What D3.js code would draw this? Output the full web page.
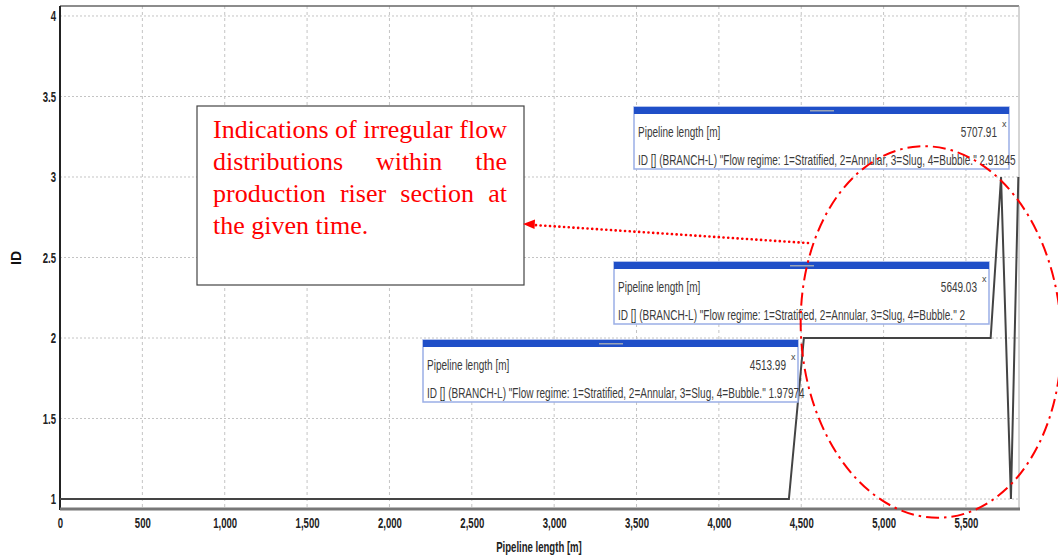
<!DOCTYPE html>
<html><head><meta charset="utf-8">
<script src="https://cdn.jsdelivr.net/npm/d3@7/dist/d3.min.js"></script>
<style>body{margin:0;background:#fff}svg{display:block}</style>
</head><body>
<svg id="c" width="1058" height="559"></svg>
<script>
// ---- data ----
const pipelineLength = [0, 4425, 4516, 5650, 5713, 5773, 5818];
const flowRegimeId   = [1, 1, 2, 2, 3, 1, 3];
const xTicks = [0,500,1000,1500,2000,2500,3000,3500,4000,4500,5000,5500];
const yTicks = [1,1.5,2,2.5,3,3.5,4];
const probeLengthLabels = ["5707.91", "5649.03", "4513.99"];
const probeValueLabels = ["2.91845", "2", "1.97974"];
const seriesName = 'ID [] (BRANCH-L) "Flow regime: 1=Stratified, 2=Annular, 3=Slug, 4=Bubble."';
const noteLines = ["Indications of irregular flow", "distributions within the", "production riser section at", "the given time."];

const svg = d3.select("#c");
const L = 60, R = 1019, T = 6, B = 509;
const x = d3.scaleLinear().domain([0, 5822]).range([L, R]);
const y = d3.scaleLinear().domain([0.938, 4.062]).range([B, T]);

// horizontally condense a text element by factor s
function condense(sel, s) {
  sel.each(function () {
    const w = this.getComputedTextLength();
    d3.select(this).attr("textLength", w * s).attr("lengthAdjust", "spacingAndGlyphs");
  });
}

const sansFont = "'Liberation Sans',Arial,sans-serif";

// grid
svg.append("g").selectAll("line").data(yTicks).join("line")
  .attr("x1", L).attr("x2", R).attr("y1", d => y(d)).attr("y2", d => y(d))
  .attr("stroke", "#c4c4c4").attr("stroke-dasharray", "2,2");
svg.append("g").selectAll("line").data(xTicks).join("line")
  .attr("x1", d => x(d)).attr("x2", d => x(d)).attr("y1", T).attr("y2", B)
  .attr("stroke", "#c4c4c4").attr("stroke-dasharray", "3,3");

// axes via d3
const xAxis = d3.axisBottom(x).tickValues(xTicks).tickSize(0).tickPadding(9)
  .tickFormat(d3.format(","));
const gx = svg.append("g").attr("transform", `translate(0,${B})`).call(xAxis);
gx.select(".domain").remove();
gx.selectAll("text").attr("font-family", sansFont)
  .attr("font-weight", "bold").attr("font-size", 14.5).attr("fill", "#222");
condense(gx.selectAll("text"), 0.66);

const yAxis = d3.axisLeft(y).tickValues(yTicks).tickSize(0).tickPadding(4)
  .tickFormat(d => d3.format("")(d));
const gy = svg.append("g").attr("transform", `translate(${L},0)`).call(yAxis);
gy.select(".domain").remove();
gy.selectAll("text").attr("font-family", sansFont)
  .attr("font-weight", "bold").attr("font-size", 14.5).attr("fill", "#222");
condense(gy.selectAll("text"), 0.66);

// frame
svg.append("line").attr("x1", L).attr("x2", R).attr("y1", T).attr("y2", T).attr("stroke", "#666").attr("stroke-width", 1.5);
svg.append("line").attr("x1", R).attr("x2", R).attr("y1", T).attr("y2", B).attr("stroke", "#aaa").attr("stroke-width", 1);
svg.append("line").attr("x1", L).attr("x2", L).attr("y1", T).attr("y2", B + 1).attr("stroke", "#222").attr("stroke-width", 2);
svg.append("line").attr("x1", L).attr("x2", R + 1).attr("y1", B).attr("y2", B).attr("stroke", "#777").attr("stroke-width", 3);

// titles
const xt = svg.append("text").attr("x", 539).attr("y", 552).attr("text-anchor", "middle")
  .attr("font-family", sansFont)
  .attr("font-weight", "bold").attr("font-size", 14.5).attr("fill", "#222").text("Pipeline length [m]");
condense(xt, 0.66);
svg.append("text").attr("transform", "translate(21,258) rotate(-90)").attr("text-anchor", "middle")
  .attr("font-family", sansFont)
  .attr("font-weight", "bold").attr("font-size", 14).attr("fill", "#111").text("ID");

// data line
const pts = pipelineLength.map((d, i) => [d, flowRegimeId[i]]);
svg.append("path").datum(pts)
  .attr("d", d3.line().x(d => x(d[0])).y(d => y(d[1])))
  .attr("fill", "none").attr("stroke", "#444").attr("stroke-width", 2);

// tooltips
const tipPos = [[634, 107], [614, 262], [423, 340]];
const tipS = 0.715;
tipPos.forEach((p, i) => {
  const g = svg.append("g").attr("transform", `translate(${p[0]},${p[1]})`);
  g.append("rect").attr("width", 375).attr("height", 62).attr("fill", "#fff")
    .attr("stroke", "#9aaee6").attr("stroke-width", 1.5);
  g.append("rect").attr("width", 375).attr("height", 7).attr("fill", "#1f4fc8");
  g.append("rect").attr("x", 176).attr("y", 3).attr("width", 24).attr("height", 1.5).attr("fill", "#9aa3b5");
  const a = g.append("text").attr("x", 4).attr("y", 30).attr("font-family", sansFont).attr("font-size", 14)
    .attr("fill", "#3a3a3a").text("Pipeline length [m]");
  const b = g.append("text").attr("x", 363).attr("y", 30).attr("text-anchor", "end").attr("font-family", sansFont)
    .attr("font-size", 14).attr("fill", "#3a3a3a").text(probeLengthLabels[i]);
  g.append("text").attr("x", 368).attr("y", 20).attr("font-family", sansFont).attr("font-size", 9)
    .attr("fill", "#444").text("x");
  const c = g.append("text").attr("x", 4).attr("y", 58).attr("font-family", sansFont).attr("font-size", 14)
    .attr("fill", "#3a3a3a").text(seriesName + " " + probeValueLabels[i]);
  condense(a, tipS); condense(b, tipS); condense(c, tipS);
});

// annotation box
svg.append("rect").attr("x", 197).attr("y", 106).attr("width", 327).attr("height", 179)
  .attr("fill", "#fff").attr("stroke", "#444").attr("stroke-width", 1.2);
const noteFont = "'Liberation Serif','Times New Roman',serif";
const nl = svg.append("g");
const left = 213, right = 507;
const probe = nl.append("text").attr("font-family", noteFont).attr("font-size", 20).text(noteLines[0]);
const fs = 20 * (right - left) / probe.node().getComputedTextLength();
probe.remove();
noteLines.forEach((ln, i) => {
  const by = 138 + i * 32;
  const words = ln.split(" ");
  const ws = words.map(w => nl.append("text").attr("y", by).attr("font-family", noteFont)
    .attr("font-size", fs).attr("fill", "#f00").text(w));
  const widths = ws.map(t => t.node().getComputedTextLength());
  const last = i === noteLines.length - 1;
  const gap = last ? fs * 0.25 : (right - left - d3.sum(widths)) / (words.length - 1);
  let cx = left;
  ws.forEach((t, k) => { t.attr("x", cx); cx += widths[k] + gap; });
});

// arrow
svg.append("line").attr("x1", 808).attr("y1", 243).attr("x2", 534).attr("y2", 225)
  .attr("stroke", "#f00").attr("stroke-width", 2.6).attr("stroke-linecap", "round")
  .attr("stroke-dasharray", "0.1,4.6");
svg.append("path").attr("d", "M523,224 L535,219.5 L534.5,229 Z").attr("fill", "#f00");

// ellipse
svg.append("ellipse").attr("cx", 0).attr("cy", 0).attr("rx", 130).attr("ry", 186)
  .attr("transform", "translate(931,332) rotate(-4)")
  .attr("fill", "none").attr("stroke", "#f00").attr("stroke-width", 2)
  .attr("stroke-dasharray", "13,5,2.5,5");
</script>
</body></html>
